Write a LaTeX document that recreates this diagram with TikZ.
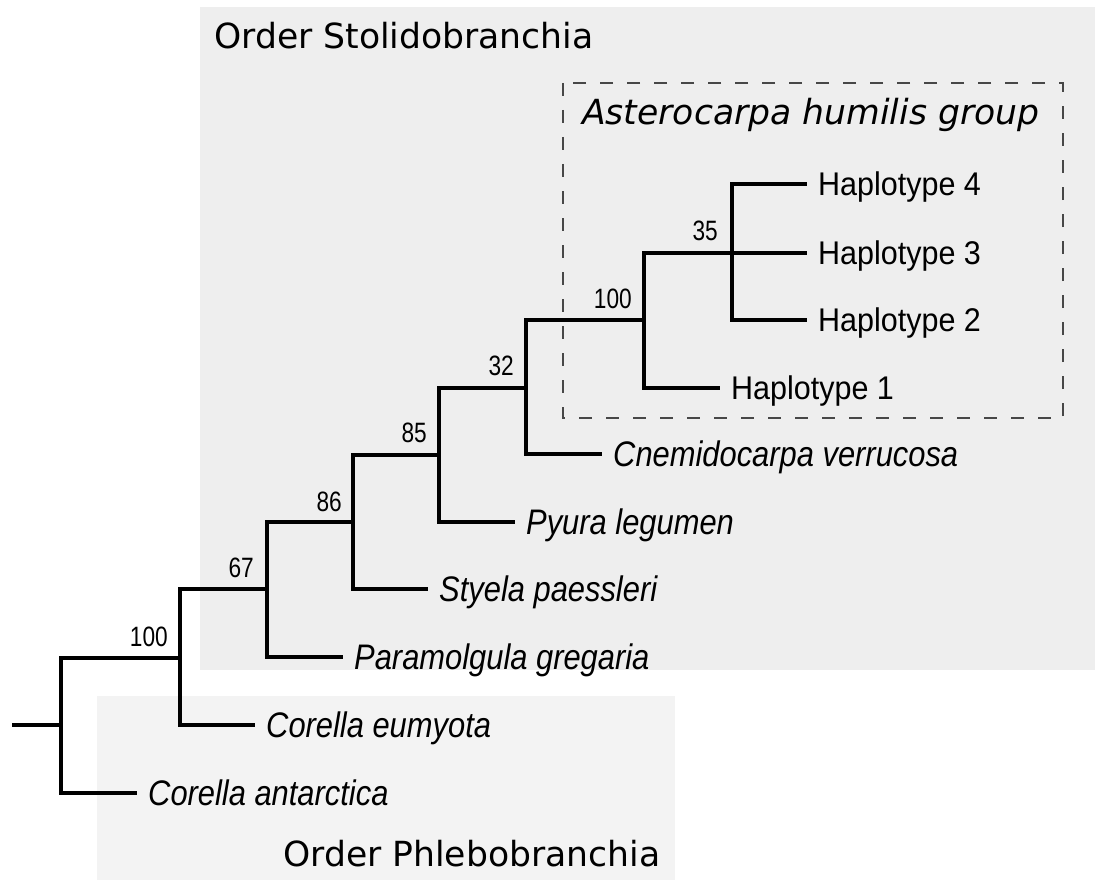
\documentclass[tikz,border=0pt]{standalone}
\usepackage{fontspec}
\newfontfamily\speciesfont[FakeStretch=0.87]{Liberation Sans}
\newfontfamily\haplofont[FakeStretch=0.93]{Liberation Sans}
\newfontfamily\supportfont[FakeStretch=0.81]{Liberation Sans}
\newfontfamily\dejavufont{DejaVu Sans}
\definecolor{stolidofill}{HTML}{EEEEEE}
\definecolor{phlebofill}{HTML}{F3F3F3}
\definecolor{groupline}{HTML}{474747}

\begin{document}
\begin{tikzpicture}[x=1pt,y=-1pt,
  branch/.style={line width=3.3pt, draw=black, line join=miter},
  taxon/.style={anchor=west, inner xsep=11pt, inner ysep=0pt,
    text height=25.4pt, text depth=0pt,
    font=\speciesfont\itshape\fontsize{35.5}{40}\selectfont},
  haplo/.style={taxon, text height=23.5pt,
    font=\haplofont\fontsize{32.8}{37}\selectfont},
  support/.style={anchor=east, inner sep=0pt, text height=20pt, text depth=0pt,
    font=\supportfont\fontsize{28}{32}\selectfont},
  ordertitle/.style={anchor=base west, inner sep=0pt,
    font=\dejavufont\fontsize{34.6}{40}\selectfont},
  groupbox/.style={draw=groupline, line width=2pt, dash pattern=on 13pt off 14pt},
]
\useasboundingbox (0,0) rectangle (1095,880);

% order backgrounds
\fill[stolidofill] (200,7) rectangle (1095,670);
\fill[phlebofill] (97,696) rectangle (675,880);
\node[ordertitle] (stolido) at (214,49) {Order Stolidobranchia};
\node[ordertitle] (phlebo) at (283,866) {Order Phlebobranchia};

% Asterocarpa humilis group
\draw[groupbox] (563,83) rectangle (1063,418);
\node[ordertitle, font=\dejavufont\itshape\fontsize{34.6}{40}\selectfont] (astero) at (582,125) {Asterocarpa humilis group};

% internal nodes
\coordinate (stub) at (12,725);
\coordinate (n0) at (61,725);
\coordinate (n1) at (180,658);
\coordinate (n2) at (267,589);
\coordinate (n3) at (353,522);
\coordinate (n4) at (439,455);
\coordinate (n5) at (526,388);
\coordinate (n6) at (644,320);
\coordinate (n7) at (732,253);

% tips
\node[taxon] (cant) at (137,793) {Corella antarctica};
\node[taxon] (ceum) at (255,725) {Corella eumyota};
\node[taxon] (pgre) at (343,657) {Paramolgula gregaria};
\node[taxon] (spae) at (428,589) {Styela paessleri};
\node[taxon] (pleg) at (515,522) {Pyura legumen};
\node[taxon] (cver) at (602,454) {Cnemidocarpa verrucosa};
\node[haplo] (h1) at (720,388) {Haplotype 1};
\node[haplo] (h2) at (807,320) {Haplotype 2};
\node[haplo] (h3) at (807,253) {Haplotype 3};
\node[haplo] (h4) at (807,184) {Haplotype 4};

% branches
\draw[branch] (stub) -- (n0);
\draw[branch] (n0) |- (n1);
\draw[branch] (n0) |- (cant.west);
\draw[branch] (n1) |- (n2);
\draw[branch] (n1) |- (ceum.west);
\draw[branch] (n2) |- (n3);
\draw[branch] (n2) |- (pgre.west);
\draw[branch] (n3) |- (n4);
\draw[branch] (n3) |- (spae.west);
\draw[branch] (n4) |- (n5);
\draw[branch] (n4) |- (pleg.west);
\draw[branch] (n5) |- (n6);
\draw[branch] (n5) |- (cver.west);
\draw[branch] (n6) |- (n7);
\draw[branch] (n6) |- (h1.west);
\draw[branch] (n7) |- (h4.west);
\draw[branch] (n7) |- (h3.west);
\draw[branch] (n7) |- (h2.west);

% bootstrap support
\node[support] (s1) at ([shift={(-12,-22)}]n1) {100};
\node[support] (s2) at ([shift={(-13,-22)}]n2) {67};
\node[support] (s3) at ([shift={(-11,-21)}]n3) {86};
\node[support] (s4) at ([shift={(-12,-23)}]n4) {85};
\node[support] (s5) at ([shift={(-12,-23)}]n5) {32};
\node[support] (s6) at ([shift={(-12,-22)}]n6) {100};
\node[support] (s7) at ([shift={(-14,-23)}]n7) {35};
\end{tikzpicture}
\end{document}
